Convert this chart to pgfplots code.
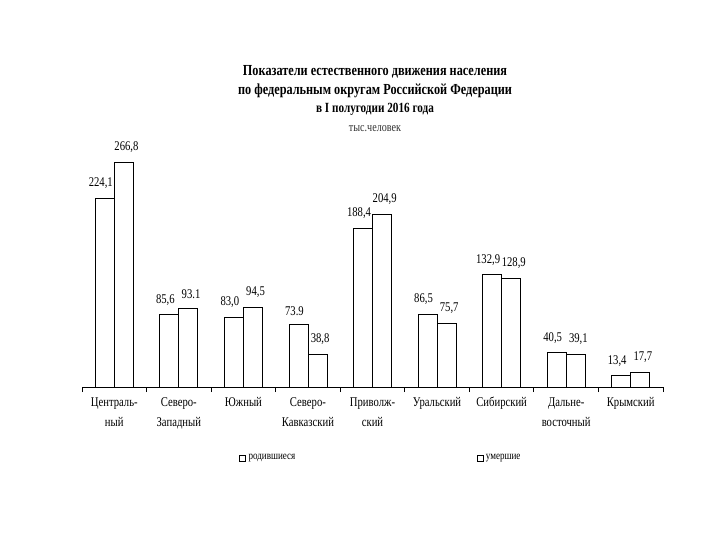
\documentclass[border=0pt]{standalone}
\usepackage{pgfplots}
\pgfplotsset{compat=1.18}
\usepackage{pgfplotstable}
\usepackage{fontspec}
\setmainfont{Liberation Serif}[FakeStretch=0.8]

% x, y: born, died; labels as printed on the chart
\pgfplotstableread{
x born died lborn ldied
0 224.1 266.8 224,1 266,8
1 85.6 93.1 85,6 93.1
2 83.0 94.5 83,0 94,5
3 73.9 38.8 73.9 38,8
4 188.4 204.9 188,4 204,9
5 86.5 75.7 86,5 75,7
6 132.9 128.9 132,9 128,9
7 40.5 39.1 40,5 39,1
8 13.4 17.7 13,4 17,7
}\districts

\begin{document}
\begin{tikzpicture}
% page = 720x540 px, 1px = 0.75pt
\useasboundingbox (0,0) rectangle (540pt,405pt);

\node[font=\bfseries\fontsize{11.5}{14}\selectfont] at (281.25pt,351pt) {Показатели естественного движения населения};
\node[font=\bfseries\fontsize{11.5}{14}\selectfont] at (281.25pt,336.75pt) {по федеральным округам Российской Федерации};
\node[font=\bfseries\fontsize{10.5}{12}\selectfont] at (281.25pt,323.25pt) {в I полугодии 2016 года};
\node[font=\fontsize{9.5}{11}\selectfont, text=black!80] at (281.25pt,308.25pt) {тыс.человек};

\begin{axis}[
    at={(61.5pt,114.75pt)}, anchor=south west,
    scale only axis,
    width=435.75pt, height=189.8pt,
    xmin=-0.5, xmax=8.5,
    ymin=0, ymax=300,
    axis x line=bottom,
    axis y line=none,
    x axis line style={-, line width=0.6pt},
    ybar=0pt,
    bar width=14.25pt,
    xtick={0,...,8},
    xticklabels={{Централь-\\ный},{Северо-\\Западный},{Южный},{Северо-\\Кавказский},{Приволж-\\ский},{Уральский},{Сибирский},{Дальне-\\восточный},{Крымский}},
    minor xtick={-0.5,0.5,...,8.5},
    tick align=outside,
    major tick length=0pt,
    minor tick length=3.75pt,
    minor tick style={black, line width=0.6pt},
    xticklabel style={align=center, font=\fontsize{10}{15.5}\selectfont, inner sep=0pt, yshift=-7.5pt},
    nodes near coords={\pgfplotspointmeta},
    point meta=explicit symbolic,
    every node near coord/.append style={font=\fontsize{10}{12}\selectfont, inner sep=0pt, anchor=south, yshift=6.75pt},
    legend columns=2,
    legend style={draw=none, at={(axis description cs:0.515,0)}, anchor=center, yshift=-53.25pt,
        font=\fontsize{8.5}{10}\selectfont,
        /tikz/every even column/.append style={column sep=134pt}},
    legend image code/.code={\draw[black, fill=white, line width=0.5pt] (0pt,-2.2pt) rectangle (4.4pt,2.2pt);},
]
\addplot[draw=black, fill=white, line width=0.6pt,
    every node near coord/.append style={xshift=-3pt}]
    table[x=x, y=born, meta=lborn] {\districts};
\addlegendentry{родившиеся}
\addplot[draw=black, fill=white, line width=0.6pt,
    every node near coord/.append style={xshift=2pt}]
    table[x=x, y=died, meta=ldied] {\districts};
\addlegendentry{умершие}
\end{axis}
\end{tikzpicture}
\end{document}
